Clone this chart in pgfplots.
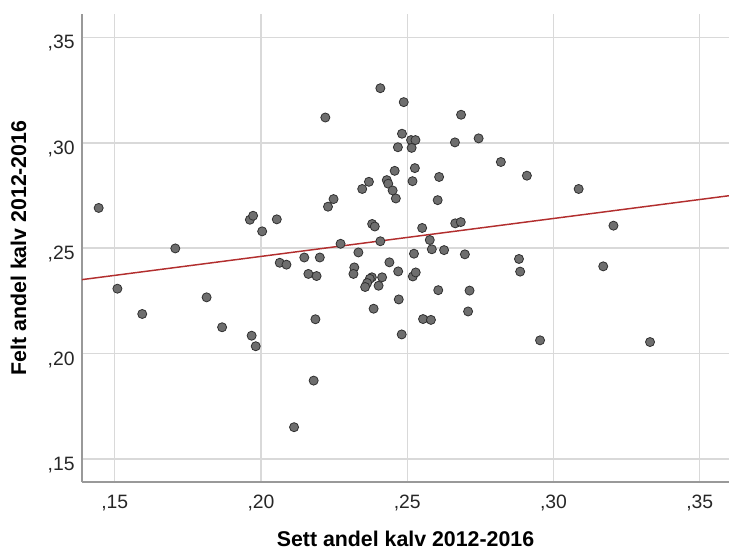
\documentclass[border=0pt]{standalone}
\usepackage{pgfplots}
\pgfplotsset{compat=1.18}
\usepackage{fontspec}
\setmainfont{Liberation Sans}

\definecolor{dotfill}{HTML}{6E6E6E}
\definecolor{dotedge}{HTML}{303030}
\definecolor{fitline}{HTML}{B22E2E}

\begin{document}
\begin{tikzpicture}
\begin{axis}[
  scale only axis,
  width=485.25pt, height=351pt,
  xmin=0.1388, xmax=0.36,
  ymin=0.1391, ymax=0.3611,
  axis lines=left,
  axis line style={draw=black!40, line width=1.1pt, -},
  grid=major,
  major grid style={draw=black!15, line width=1.1pt},
  major tick length=0pt,
  xtick={0.15,0.20,0.25,0.30,0.35},
  xticklabels={{,15},{,20},{,25},{,30},{,35}},
  ytick={0.15,0.20,0.25,0.30,0.35},
  yticklabels={{,15},{,20},{,25},{,30},{,35}},
  /pgf/number format/assume math mode=true,
  tick label style={font=\fontsize{14.5}{17}\selectfont, text=black!85},
  xticklabel style={anchor=north, yshift=-6pt},
  yticklabel style={anchor=east, xshift=-2pt, yshift=-4.5pt},
  xlabel={Sett andel kalv 2012-2016},
  ylabel={Felt andel kalv 2012-2016},
  label style={font=\bfseries\fontsize{16}{19}\selectfont},
  xlabel style={at={(axis description cs:0.5,-0.1368)}, anchor=base},
  ylabel style={at={(axis description cs:-0.0981,0.5)}, anchor=center},
  clip=false,
]
\coordinate (ll) at (rel axis cs:0,0);
\coordinate (ur) at (rel axis cs:1,1);

% fitted line
\addplot[fitline, line width=1.1pt] coordinates {(0.1388,0.2351) (0.36,0.2749)};

% observations
\addplot[only marks, mark=*, mark size=3.4pt,
  mark options={fill=dotfill, draw=dotedge, line width=0.6pt}]
coordinates {
(0.1445,0.2691) (0.1509,0.2308) (0.1594,0.2188) (0.1707,0.2499)
(0.1814,0.2267) (0.1867,0.2125) (0.1968,0.2085) (0.1962,0.2635)
(0.1973,0.2654) (0.1982,0.2035) (0.2220,0.3120) (0.2248,0.2733)
(0.2229,0.2697) (0.2054,0.2637) (0.2004,0.2580) (0.2272,0.2521)
(0.2064,0.2431) (0.2087,0.2422) (0.2148,0.2456) (0.2201,0.2456)
(0.2162,0.2378) (0.2190,0.2368) (0.2186,0.2163) (0.2180,0.1872)
(0.2113,0.1651) (0.2408,0.3259) (0.2488,0.3193) (0.2684,0.3133)
(0.2482,0.3043) (0.2513,0.3013) (0.2528,0.3013) (0.2468,0.2979)
(0.2515,0.2976) (0.2663,0.3002) (0.2744,0.3021) (0.2526,0.2880)
(0.2457,0.2867) (0.2609,0.2838) (0.2369,0.2815) (0.2430,0.2823)
(0.2435,0.2806) (0.2518,0.2818) (0.2346,0.2781) (0.2450,0.2774)
(0.2461,0.2736) (0.2604,0.2728) (0.2380,0.2615) (0.2389,0.2603)
(0.2551,0.2596) (0.2664,0.2618) (0.2683,0.2624) (0.2408,0.2533)
(0.2577,0.2539) (0.2820,0.2909) (0.2909,0.2844) (0.3086,0.2781)
(0.3205,0.2607) (0.2333,0.2480) (0.2319,0.2409) (0.2316,0.2378)
(0.2439,0.2433) (0.2379,0.2362) (0.2372,0.2355) (0.2414,0.2362)
(0.2363,0.2335) (0.2356,0.2316) (0.2402,0.2322) (0.2469,0.2390)
(0.2523,0.2474) (0.2519,0.2366) (0.2529,0.2385) (0.2584,0.2495)
(0.2626,0.2491) (0.2697,0.2471) (0.2606,0.2301) (0.2713,0.2299)
(0.2471,0.2257) (0.2385,0.2213) (0.2554,0.2164) (0.2581,0.2160)
(0.2708,0.2200) (0.2481,0.2091) (0.2882,0.2449) (0.2886,0.2389)
(0.2954,0.2063) (0.3170,0.2414) (0.3330,0.2055)
};
\end{axis}
\pgfresetboundingbox
\path[use as bounding box] ([xshift=-61.5pt,yshift=-51.75pt]ll) rectangle ([yshift=10.5pt]ur);
\end{tikzpicture}
\end{document}
